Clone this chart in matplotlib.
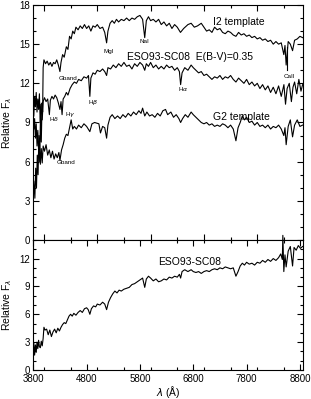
import numpy as np
import matplotlib.pyplot as plt
from matplotlib.ticker import MultipleLocator

plt.rcParams['font.family'] = ['Liberation Sans', 'DejaVu Sans']

# I2 template (top curve, upper panel)
i2_wave = [3810, 3830, 3845, 3860, 3875, 3890, 3905, 3920, 3935, 3950, 3965, 3975,
           3985, 4000, 4030, 4060, 4090, 4120, 4150, 4180, 4210, 4240, 4270, 4300,
           4320, 4350, 4380, 4420, 4450, 4480, 4510, 4540, 4570, 4600, 4640, 4680,
           4720, 4760, 4800, 4840, 4880, 4920, 4960, 5000, 5050, 5100, 5140, 5175,
           5200, 5240, 5280, 5320, 5360, 5400, 5450, 5500, 5550, 5600, 5650, 5700,
           5750, 5800, 5850, 5890, 5920, 5960, 6000, 6050, 6100, 6150, 6200, 6250,
           6300, 6350, 6400, 6450, 6500, 6560, 6620, 6700, 6760, 6820, 6880, 6950,
           7000, 7050, 7100, 7150, 7200, 7250, 7300, 7350, 7400, 7450, 7500, 7550,
           7600, 7650, 7700, 7750, 7800, 7850, 7900, 7950, 8000, 8050, 8100, 8150,
           8200, 8250, 8300, 8350, 8400, 8450, 8498, 8520, 8542, 8580, 8620, 8662,
           8700, 8750, 8800, 8850]
i2_flux = [4.5, 3.2, 5.5, 4.0, 6.5, 5.0, 8.0, 6.0, 9.5, 7.5, 10.5, 9.8,
           13.2, 13.8, 13.5, 13.7, 13.4, 13.6, 13.3, 13.6, 13.5, 13.8, 13.4, 12.9,
           13.6, 14.2, 14.0, 14.8, 14.6, 15.6, 15.4, 16.0, 15.8, 16.3, 16.1, 16.4,
           16.2, 16.5, 16.2, 16.4, 16.0, 16.4, 16.3, 16.5, 16.2, 16.3, 15.9, 15.1,
           16.0, 16.6, 16.8, 16.6, 16.9, 16.7, 16.9, 16.8, 17.0, 16.8, 17.0, 16.9,
           17.1, 17.2, 16.9, 15.5, 16.8, 17.1, 16.8, 16.9, 16.7, 16.9, 16.5, 16.7,
           16.4, 16.6, 16.2, 16.5, 16.3, 15.9, 16.2, 16.5, 16.6, 16.3, 16.4, 16.6,
           16.3, 16.0, 16.1, 15.9, 16.3, 16.1, 16.2, 15.9, 15.8, 16.0, 15.9, 15.7,
           15.6, 15.9, 15.7, 15.8, 15.6, 15.7, 15.5, 15.6, 15.4, 15.5, 15.3, 15.4,
           15.2, 15.3, 15.0, 15.2, 15.0, 15.1, 14.2, 14.9, 13.4, 15.2, 15.0, 14.5,
           15.3, 15.4, 15.6, 15.5]

# ESO93-SC08 dereddened, E(B-V)=0.35 (middle curve)
eso_dr_wave = [3810, 3825, 3840, 3855, 3870, 3885, 3900, 3915, 3930, 3945, 3968, 3985,
               4010, 4040, 4070, 4102, 4120, 4150, 4180, 4210, 4240, 4270, 4300, 4320,
               4340, 4360, 4390, 4420, 4450, 4490, 4530, 4570, 4610, 4650, 4700, 4750,
               4800, 4835, 4861, 4880, 4920, 4960, 5000, 5050, 5100, 5140, 5175, 5200,
               5250, 5300, 5350, 5400, 5450, 5500, 5550, 5600, 5650, 5700, 5750, 5800,
               5850, 5890, 5920, 5960, 6000, 6050, 6100, 6150, 6200, 6250, 6300, 6350,
               6400, 6450, 6500, 6540, 6563, 6590, 6640, 6700, 6760, 6800, 6850, 6900,
               6950, 7000, 7050, 7100, 7150, 7200, 7250, 7300, 7350, 7400, 7450, 7500,
               7550, 7600, 7650, 7700, 7750, 7800, 7850, 7900, 7950, 8000, 8050, 8100,
               8150, 8200, 8250, 8300, 8350, 8400, 8450, 8500, 8530, 8560, 8600, 8640,
               8670, 8700, 8740, 8780, 8820, 8850]
eso_dr_flux = [9.5, 11.0, 10.2, 11.3, 9.8, 10.8, 10.0, 11.2, 9.0, 10.4, 9.2, 10.6,
               10.9, 10.6, 10.8, 9.6, 10.7, 11.0, 10.8, 11.1, 10.9, 10.5, 10.0, 10.6,
               9.6, 10.8, 11.0, 11.3, 11.1, 11.6, 11.9, 12.1, 12.0, 12.3, 12.2, 12.5,
               12.4, 12.6, 11.0, 12.4, 12.8, 12.7, 13.0, 12.9, 13.1, 12.9, 12.6, 13.2,
               13.1, 13.4, 13.2, 13.5, 13.3, 13.6, 13.3, 13.4, 13.1, 13.5, 13.3, 13.6,
               13.4, 13.0, 13.5, 13.3, 13.6, 13.2, 13.4, 13.1, 13.3, 13.1, 13.4, 13.2,
               13.3, 13.0, 13.2, 12.9, 11.9, 12.8, 13.2, 13.0, 13.4, 13.2, 13.0, 12.8,
               12.9, 12.6, 12.7, 12.5, 12.3, 12.5, 12.4, 12.6, 12.3, 12.5, 12.4, 12.6,
               12.3, 12.1, 12.4, 12.2, 12.0, 12.3, 11.9, 12.1, 11.8, 12.0, 11.6, 11.9,
               11.5, 11.8, 11.3, 11.7, 11.2, 11.8, 11.0, 11.9, 10.4, 11.6, 12.0, 10.6,
               11.7, 12.1, 11.2, 12.3, 11.4, 11.9]

# G2 template (lower curve, upper panel)
g2_wave = [3810, 3825, 3840, 3855, 3870, 3885, 3900, 3915, 3933, 3950, 3968, 3985,
           4010, 4040, 4070, 4100, 4130, 4160, 4190, 4220, 4250, 4280, 4300, 4330,
           4360, 4390, 4420, 4450, 4480, 4510, 4540, 4570, 4610, 4650, 4700, 4750,
           4800, 4861, 4900, 4950, 5030, 5060, 5100, 5140, 5175, 5200, 5240, 5280,
           5330, 5380, 5430, 5480, 5530, 5580, 5630, 5680, 5730, 5780, 5820, 5850,
           5890, 5930, 5980, 6030, 6080, 6130, 6180, 6230, 6280, 6320, 6380, 6430,
           6480, 6530, 6563, 6600, 6650, 6700, 6760, 6800, 6850, 6900, 6950, 7000,
           7050, 7100, 7150, 7200, 7250, 7300, 7350, 7400, 7450, 7500, 7550, 7600,
           7640, 7680, 7720, 7760, 7800, 7850, 7900, 7950, 8000, 8050, 8100, 8150,
           8200, 8250, 8300, 8350, 8400, 8450, 8498, 8520, 8542, 8580, 8620, 8662,
           8700, 8750, 8800, 8850]
g2_flux = [8.5, 9.3, 7.8, 8.9, 7.2, 8.4, 6.8, 7.6, 5.8, 7.0, 5.9, 7.2,
           6.8, 7.3, 6.5, 6.9, 6.3, 6.8, 6.2, 6.6, 6.3, 6.7, 6.1, 6.9,
           7.3, 7.8, 8.1, 8.0, 8.6, 9.2, 8.5, 8.7, 8.5, 8.8, 8.6, 8.9,
           8.7, 8.3, 8.9, 9.0, 8.9, 8.2, 8.7, 8.6, 7.8, 8.8, 9.4, 9.6,
           9.3, 9.5, 9.3, 9.6, 9.4, 9.7, 9.5, 9.8, 9.6, 9.9, 9.7, 10.1,
           9.5, 9.8, 9.5, 9.6, 9.4, 9.7, 9.5, 9.9, 10.0, 9.6, 9.8, 9.4,
           9.6, 9.3, 9.0, 9.3, 9.6, 9.4, 9.8, 9.6, 9.4, 9.2, 9.0, 8.9,
           9.0, 8.8, 8.9, 8.7, 8.8, 8.7, 8.9, 8.8, 8.6, 8.8, 8.5, 7.6,
           8.6, 9.0, 9.5, 9.2, 9.4, 9.0, 9.1, 8.8, 9.0, 8.7, 8.8, 8.6,
           8.8, 8.5, 8.7, 8.6, 8.8, 8.5, 8.0, 8.6, 7.3, 8.7, 9.2, 7.9,
           8.8, 9.2, 8.7, 8.8]

# ESO93-SC08 observed (lower panel)
eso_wave = [3810, 3825, 3840, 3855, 3870, 3885, 3900, 3915, 3933, 3950, 3968, 3985,
            4000, 4020, 4050, 4080, 4110, 4140, 4170, 4200, 4230, 4260, 4290, 4320,
            4350, 4380, 4410, 4440, 4470, 4500, 4530, 4560, 4600, 4640, 4680, 4720,
            4760, 4800, 4830, 4861, 4890, 4930, 4970, 5000, 5050, 5100, 5140, 5175,
            5210, 5250, 5290, 5330, 5370, 5410, 5450, 5500, 5550, 5600, 5650, 5700,
            5750, 5800, 5850, 5890, 5920, 5960, 6000, 6050, 6100, 6150, 6200, 6250,
            6300, 6350, 6400, 6450, 6500, 6540, 6563, 6590, 6640, 6700, 6760, 6800,
            6850, 6900, 6950, 7000, 7050, 7100, 7150, 7200, 7250, 7300, 7350, 7400,
            7450, 7500, 7550, 7600, 7640, 7680, 7720, 7760, 7800, 7850, 7900, 7950,
            8000, 8050, 8100, 8150, 8200, 8250, 8300, 8350, 8400, 8440, 8470, 8480,
            8498, 8520, 8542, 8580, 8620, 8662, 8690, 8730, 8770, 8810, 8850]
eso_flux = [2.9, 1.6, 2.7, 1.9, 3.0, 2.3, 3.2, 2.5, 2.4, 3.1, 2.6, 3.4,
            4.6, 4.3, 4.4, 3.8, 4.3, 3.6, 4.1, 4.4, 4.0, 4.5, 4.2, 4.6,
            4.9, 5.1, 5.0, 5.4, 5.8, 6.0, 5.8, 6.1, 5.9, 6.2, 6.4, 6.2,
            6.6, 6.7, 6.5, 6.0, 6.6, 6.9, 6.8, 7.1, 7.0, 7.3, 7.1, 6.5,
            7.3, 7.8, 8.2, 8.5, 8.3, 8.6, 8.5, 8.7, 8.8, 8.9, 9.2, 9.3,
            9.5, 9.7, 9.9, 8.9, 9.8, 10.1, 9.9, 9.6, 9.8, 9.5, 9.6, 9.8,
            9.7, 10.0, 9.9, 10.1, 10.0, 10.3, 9.9, 10.6, 10.8, 10.6, 10.8, 10.6,
            10.5, 10.6, 10.4, 10.6, 10.7, 10.6, 10.8, 10.9, 10.8, 11.0, 10.9, 11.1,
            11.0, 10.9, 11.0, 10.1, 10.6, 11.2, 11.5, 11.3, 11.6, 11.4, 11.5, 11.3,
            11.6, 11.5, 11.8, 11.6, 11.9, 11.7, 12.0, 11.8, 12.1, 12.5, 11.9, 14.5,
            10.6, 12.4, 11.1, 12.8, 13.3, 11.2, 13.2, 12.9, 13.4, 13.1, 13.3]

# line identifications: (text, wavelength, flux)
top_ids = [('Gband', 4269, 12.4), ('MgI', 5113, 14.4), ('NaI', 5800, 15.2),
           ('CaII', 8488, 12.5), ('H$\\delta$', 4100, 9.3), ('H$\\gamma$', 4394, 9.6),
           ('H$\\beta$', 4831, 10.5), ('H$\\alpha$', 6519, 11.55), ('Gband', 4238, 5.9)]


fig = plt.figure(figsize=(3.11, 3.99), dpi=100)
ax1 = fig.add_axes([0.107, 0.3985, 0.868, 0.589])
ax2 = fig.add_axes([0.107, 0.0727, 0.868, 0.3258])

for ax in (ax1, ax2):
	ax.set_xlim(3800, 8862)
	ax.xaxis.set_major_locator(MultipleLocator(1000))
	ax.xaxis.set_minor_locator(MultipleLocator(500))
	ax.yaxis.set_major_locator(MultipleLocator(3))
	ax.yaxis.set_minor_locator(MultipleLocator(1))
	ax.tick_params(which='both', direction='in', top=True, right=True,
		labelsize=7, width=0.8, pad=2)
	ax.tick_params(which='major', length=4.5)
	ax.tick_params(which='minor', length=2.5)
	for s in ax.spines.values():
		s.set_linewidth(0.8)
	ax.set_ylabel('Relative F$_\\lambda$', fontsize=7.5, labelpad=4)

ax1.set_ylim(0, 18)
ax1.tick_params(labelbottom=False)
ax2.set_ylim(0, 14)
ax2.set_xticks([3800, 4800, 5800, 6800, 7800, 8800])
ax2.tick_params(axis='x', pad=3)
ax2.set_xlabel('$\\lambda$ (Å)', fontsize=7.5, labelpad=0)

ax1.plot(i2_wave, i2_flux, color='k', lw=0.8)
ax1.plot(eso_dr_wave, eso_dr_flux, color='k', lw=0.8)
ax1.plot(g2_wave, g2_flux, color='k', lw=0.8)
ax2.plot(eso_wave, eso_flux, color='k', lw=0.8, clip_on=False)

ax1.text(7175, 16.7, 'I2 template', fontsize=7.5, va='center')
ax1.text(5560, 14.0, 'ESO93-SC08  E(B-V)=0.35', fontsize=7.5, va='center')
ax1.text(7175, 9.45, 'G2 template', fontsize=7.5, va='center')
for lab, w, f in top_ids:
	ax1.text(w, f, lab, fontsize=4.5, va='center')
ax1.plot([8557, 8557], [13.0, 14.8], color='k', lw=0.8)

ax2.text(6144, 11.6, 'ESO93-SC08', fontsize=7.5, va='center')

plt.savefig('out.png', dpi=100)
